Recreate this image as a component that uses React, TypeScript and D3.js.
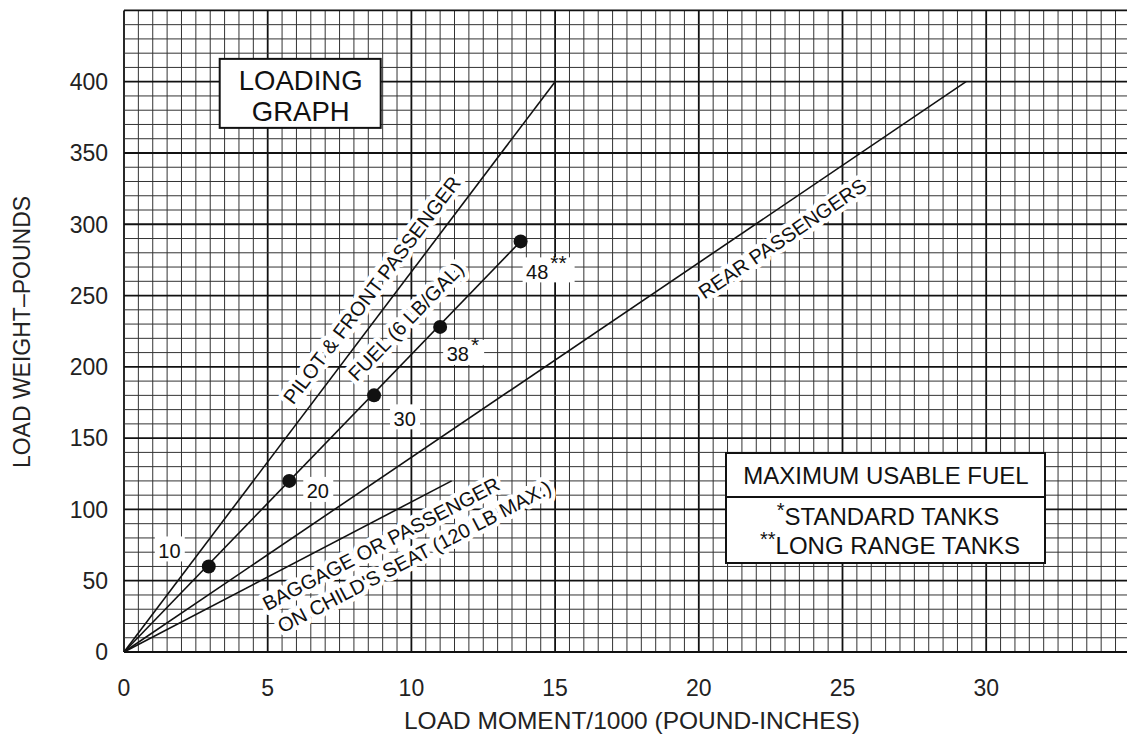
import React from 'react';
import * as d3 from 'd3';

// ---- data ----
const xTicks = [0, 5, 10, 15, 20, 25, 30];
const yTicks = [0, 50, 100, 150, 200, 250, 300, 350, 400];

// straight load lines from the origin: [moment/1000, weight]
const pilotEnd = [15.0, 400];
const rearEnd = [29.3, 400];
const baggageEnd = [11.4, 120];

// fuel points (6 lb/gal)
const fuelGallons = ['10', '20', '30', '38', '48'];
const fuelStars = ['', '', '', '*', '**'];
const fuelWeight = [60, 120, 180, 228, 288];
const fuelMoment = [2.95, 5.75, 8.7, 11.0, 13.8];

const W = 1127;
const H = 740;
const FONT = '"Liberation Sans", Arial, Helvetica, sans-serif';

const App = () => {
  const x = d3.scaleLinear().domain([0, 35]).range([124, 1129.9]);
  const y = d3.scaleLinear().domain([0, 450]).range([652, 10.4]);

  const xGrid = d3.range(0, 35.001, 0.5);
  const yGrid = d3.range(0, 450.001, 10);

  const line = d3.line<number[]>().x(d => x(d[0])).y(d => y(d[1]));

  const angleOf = (end: number[]) =>
    (Math.atan2(y(end[1]) - y(0), x(end[0]) - x(0)) * 180) / Math.PI;

  // rotated labels along the lines, centre in data units
  const lineLabels = [
    { text: 'PILOT & FRONT PASSENGER', at: [8.62, 254], ang: angleOf(pilotEnd) },
    { text: 'FUEL (6 LB/GAL)', at: [9.8, 232], ang: angleOf([fuelMoment[4], fuelWeight[4]]) },
    { text: 'REAR PASSENGERS', at: [22.9, 290], ang: angleOf(rearEnd) },
    { text: 'BAGGAGE OR PASSENGER', at: [8.94, 76], ang: angleOf(baggageEnd) },
    { text: "ON CHILD'S SEAT (120 LB MAX.)", at: [10.1, 67], ang: angleOf(baggageEnd) },
  ];

  // pixel offsets of the gallon tags from their dots
  const tagOffset = [[-39, -16], [29, 10], [31, 23], [18, 27], [17, 30]];

  return (
    <svg width={W} height={H} style={{ position: 'absolute', left: 0, top: 0, background: '#fff' }}
      fontFamily={FONT}>
      <rect width={W} height={H} fill="#fff" />

      {/* graph paper */}
      <g>
        {xGrid.map(v => {
          const major = Math.abs(v % 5) < 1e-6;
          return (
            <line key={'gx' + v} x1={x(v)} x2={x(v)} y1={y(0)} y2={y(450)}
              stroke={major ? '#111' : '#333'} strokeWidth={major ? 1.8 : 1} />
          );
        })}
        {yGrid.map(v => {
          const major = v % 50 === 0;
          return (
            <line key={'gy' + v} x1={x(0)} x2={x(35)} y1={y(v)} y2={y(v)}
              stroke={major ? '#111' : '#333'} strokeWidth={major ? 1.8 : 1} />
          );
        })}
      </g>

      {/* axis tick labels */}
      <g fontSize={23} fill="#222">
        {yTicks.map(t => (
          <text key={'yt' + t} x={108} y={y(t)} dy="0.36em" textAnchor="end">{t}</text>
        ))}
        {xTicks.map(t => (
          <text key={'xt' + t} x={x(t)} y={688} dy="0.36em" textAnchor="middle">{t}</text>
        ))}
      </g>
      <text x={632} y={720} dy="0.36em" textAnchor="middle" fontSize={24.5} fill="#222">
        LOAD MOMENT/1000 (POUND-INCHES)
      </text>
      <text transform={`translate(22,332) rotate(-90)`} dy="0.36em" textAnchor="middle"
        fontSize={23} fill="#222">
        LOAD WEIGHT–POUNDS
      </text>

      {/* labels along lines with white knock-out */}
      <g fontSize={20} fill="#111">
        {lineLabels.map(l => (
          <text key={l.text} transform={`translate(${x(l.at[0])},${y(l.at[1])}) rotate(${l.ang})`}
            textAnchor="middle" dy="0.36em" stroke="#fff" strokeWidth={9}
            strokeLinejoin="round" paintOrder="stroke">
            {l.text}
          </text>
        ))}
      </g>

      {/* load lines */}
      <g stroke="#111" strokeWidth={1.6} fill="none">
        <path d={line([[0, 0], pilotEnd]) || ''} />
        <path d={line([[0, 0], rearEnd]) || ''} />
        <path d={line([[0, 0], baggageEnd]) || ''} />
        <path d={line([[0, 0], [fuelMoment[4], fuelWeight[4]]]) || ''} />
      </g>

      {/* fuel points */}
      {fuelWeight.map((w, i) => {
        const cx = x(fuelMoment[i]);
        const cy = y(w);
        const tx = cx + tagOffset[i][0];
        const ty = cy + tagOffset[i][1];
        const boxW = fuelStars[i] ? 30 + 11 * fuelStars[i].length : 30;
        return (
          <g key={'f' + i}>
            <rect x={tx - 15} y={ty - 14} width={boxW} height={25} fill="#fff" />
            <text x={tx - 11.5} y={ty} dy="0.36em" fontSize={20} fill="#111">
              {fuelGallons[i]}
              {fuelStars[i] && <tspan dx={2} dy={-9} fontSize={21}>{fuelStars[i]}</tspan>}
            </text>
            <circle cx={cx} cy={cy} r={7} fill="#111" />
          </g>
        );
      })}

      {/* title box */}
      <g>
        <rect x={x(3.33)} y={y(416)} width={161} height={69} fill="#fff" stroke="#111" strokeWidth={2} />
        <text x={x(3.33) + 81} y={y(416) + 31} textAnchor="middle" fontSize={27.5} fill="#111">LOADING</text>
        <text x={x(3.33) + 81} y={y(416) + 62} textAnchor="middle" fontSize={27.5} fill="#111">GRAPH</text>
      </g>

      {/* fuel legend box */}
      <g fill="#111">
        <rect x={726} y={453} width={319} height={110} fill="#fff" stroke="#111" strokeWidth={2} />
        <line x1={726} x2={1045} y1={497} y2={497} stroke="#111" strokeWidth={2} />
        <text x={886} y={484} textAnchor="middle" fontSize={24}>MAXIMUM USABLE FUEL</text>
        <text x={888} y={525} textAnchor="middle" fontSize={24}>
          <tspan fontSize={20} dy={-8}>*</tspan>
          <tspan dy={8}>STANDARD TANKS</tspan>
        </text>
        <text x={890} y={554} textAnchor="middle" fontSize={24}>
          <tspan fontSize={20} dy={-8}>**</tspan>
          <tspan dy={8}>LONG RANGE TANKS</tspan>
        </text>
      </g>
    </svg>
  );
};

export default App;
